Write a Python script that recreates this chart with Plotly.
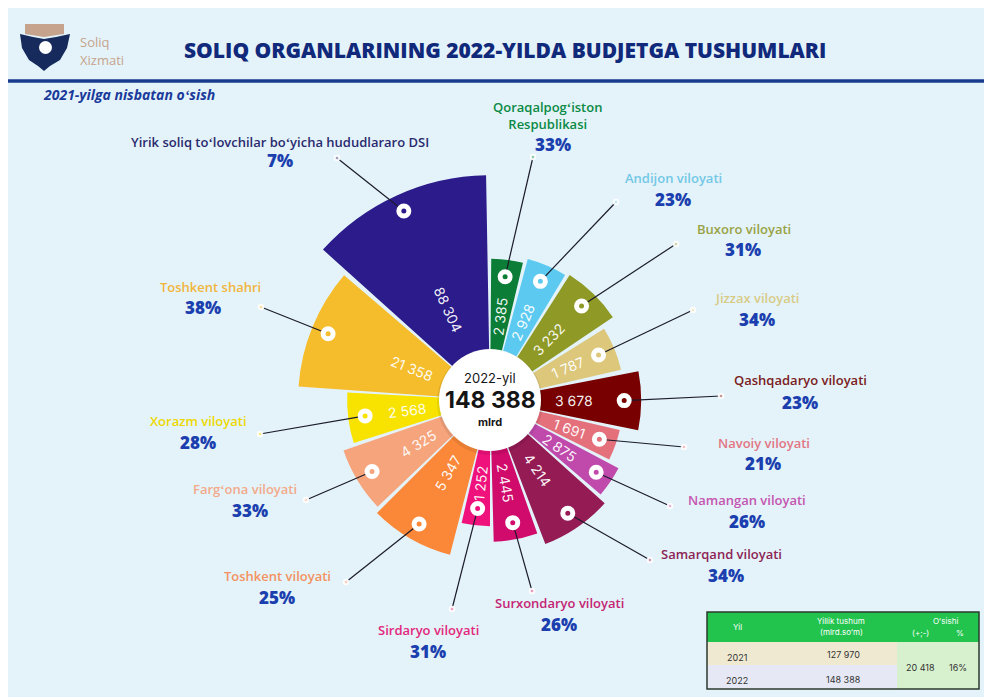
import math
import plotly.graph_objects as go

regions = [
    "Qoraqalpogʻiston<br>Respublikasi", "Andijon viloyati", "Buxoro viloyati",
    "Jizzax viloyati", "Qashqadaryo viloyati", "Navoiy viloyati",
    "Namangan viloyati", "Samarqand viloyati", "Surxondaryo viloyati",
    "Sirdaryo viloyati", "Toshkent viloyati", "Fargʻona viloyati",
    "Xorazm viloyati", "Toshkent shahri",
    "Yirik soliq toʻlovchilar boʻyicha hududlararo DSI",
]
revenue_2022 = [2385, 2928, 3232, 1787, 3678, 1691, 2875, 4214, 2445,
                1252, 5347, 4325, 2568, 21358, 88304]
growth_pct = [33, 23, 31, 34, 23, 21, 26, 34, 26, 31, 25, 33, 28, 38, 7]

years = ["2021", "2022"]
annual_total = [127970, 148388]

# ---- styling / layout ----
W, H = 992, 697
OFF = 8                 # page body margin: screen pixel = figure pixel + OFF
BG = "#e4f3fa"
NAVY = "#10297a"
PCT_BLUE = "#1b3fae"

sector_colors = ["#0b7d36", "#5ccaf0", "#8f9a26", "#dcc77a", "#780000",
                 "#e4707c", "#c04aac", "#951b55", "#d00b6b", "#f0127c",
                 "#fb8738", "#f6a47c", "#f8e300", "#f5bc2b", "#2b1b8b"]
label_colors = ["#0a8a45", "#72c8e6", "#99a244", "#d8cb86", "#7a2020",
                "#e27684", "#c455b0", "#8c2455", "#c42474", "#e2287c",
                "#f3925f", "#f2aa8a", "#ecd800", "#f1b53c", "#2a2a6e"]
# sector centre angle / angular width (degrees, clockwise from north)
sector_theta = [7, 23, 44.25, 67.5, 90.25, 109.75, 124.25, 145.5, 169.5,
                186.5, 209.75, 238.75, 262.75, 292.25, 335.5]
sector_width = [13, 16, 23.5, 19, 22.5, 13.5, 12.5, 27, 18,
                13, 30.5, 24.5, 20.5, 36.5, 47]
# label / percent / leader-dot positions in screen pixels
label_xy = [(547, 116), (673, 178), (744, 229), (757, 298), (800, 380),
            (764, 443), (747, 500), (721, 554), (559, 603), (428, 630),
            (277, 576), (245, 489), (198, 421), (210, 287), (280, 142)]
pct_xy = [(553, 145), (673, 199), (743, 250), (757, 319), (800, 402),
          (763, 464), (747, 521), (726, 575), (559, 624), (428, 651),
          (277, 597), (250, 510), (198, 442), (203, 307), (280, 161)]
dot_xy = [(533, 157), (616, 202), (676, 244), (693, 310), (721, 396),
          (684, 447), (670, 506), (650, 560), (532, 591), (452, 609),
          (346, 582), (306, 500), (260, 434), (261, 307), (337, 158)]

# polar geometry (screen pixels) and log radial scale
CX, CY = 490, 400
R_PX, HOLE_PX = 296, 50
SLOPE = 53.3            # pixels per decade
A = 1.667               # log10 value at hole edge
B = A + (R_PX - HOLE_PX) / SLOPE
BASE = 10 ** A
RING_PX = 17


def paper(x, y):
    return (x - OFF) / W, 1 - (y - OFF) / H


def to_polar(x, y):
    dx, dy = x - CX, CY - y
    rp = math.hypot(dx, dy)
    th = math.degrees(math.atan2(dx, dy)) % 360
    return 10 ** (A + (rp - HOLE_PX) / SLOPE), th


def note(x, y, text, font, xanchor="center", angle=0):
    px, py = paper(x, y)
    return dict(x=px, y=py, xref="paper", yref="paper", showarrow=False,
                xanchor=xanchor, yanchor="middle", text=text, font=font,
                textangle=angle, borderpad=0)


fig = go.Figure()

fig.add_trace(go.Barpolar(
    r=[v - BASE for v in revenue_2022],
    base=BASE,
    theta=sector_theta,
    width=sector_width,
    marker=dict(color=sector_colors, line=dict(width=0)),
    hoverinfo="skip",
))

ring_r = [v * 10 ** (-RING_PX / SLOPE) for v in revenue_2022]

# leader lines
for i in range(len(regions)):
    dr, dth = to_polar(*dot_xy[i])
    fig.add_trace(go.Scatterpolar(
        r=[ring_r[i], dr], theta=[sector_theta[i], dth], mode="lines",
        line=dict(color="#1b1b2b", width=1.2), hoverinfo="skip",
    ))

# rings on sectors
fig.add_trace(go.Scatterpolar(
    r=ring_r, theta=sector_theta, mode="markers",
    marker=dict(size=10, color=sector_colors, line=dict(color="white", width=5)),
    hoverinfo="skip",
))

# outer dots
dots = [to_polar(*p) for p in dot_xy]
fig.add_trace(go.Scatterpolar(
    r=[d[0] for d in dots], theta=[d[1] for d in dots], mode="markers",
    marker=dict(size=4, color=label_colors, line=dict(color="rgba(255,255,255,0.9)", width=2.5)),
    hoverinfo="skip",
))

annotations = []
shapes = []

# value labels inside sectors
for v, t in zip(revenue_2022, sector_theta):
    rl = 100 if v == max(revenue_2022) else 84
    x = CX + rl * math.sin(math.radians(t))
    y = CY - rl * math.cos(math.radians(t))
    ang = t - 90 if t < 180 else t - 270
    annotations.append(note(x, y, f"{v:,}".replace(",", " "),
                            dict(family="Inter", size=14, color="rgba(255,255,255,0.95)"),
                            angle=ang))

# region labels and growth
for i, name in enumerate(regions):
    annotations.append(note(*label_xy[i], name,
                            dict(family="Open Sans", size=13, weight=600, color=label_colors[i])))
    annotations.append(note(*pct_xy[i], f"{growth_pct[i]}%",
                            dict(family="Open Sans", size=17, weight=800, color=PCT_BLUE)))

# centre circle
for r, dy, col in [(53, 2, "rgba(0,0,0,0.08)"), (51, 0, "white")]:
    x0, y0 = paper(CX - r, CY + r + dy)
    x1, y1 = paper(CX + r, CY - r + dy)
    shapes.append(dict(type="circle", xref="paper", yref="paper",
                       x0=x0, y0=y0, x1=x1, y1=y1, fillcolor=col, line=dict(width=0)))

total_txt = f"{annual_total[1]:,}".replace(",", " ")
for txt, y, size, wt in [(f"{years[1]}-yil", 378, 13, 400), (total_txt, 400, 23, 700),
                         ("mlrd", 422, 11, 700)]:
    annotations.append(note(CX, y, txt, dict(family="Inter", size=size, weight=wt, color="#151515")))

# header
annotations.append(note(505, 50, "SOLIQ ORGANLARINING 2022-YILDA BUDJETGA TUSHUMLARI",
                        dict(family="Open Sans", size=21, weight=800, color=NAVY)))
annotations.append(note(42, 94, "<b><i>2021-yilga nisbatan oʻsish</i></b>",
                        dict(family="Open Sans", size=14, color="#1a3a9a"), xanchor="left"))
for txt, y in [("Soliq", 42), ("Xizmati", 60)]:
    annotations.append(note(79, y, txt, dict(family="Open Sans", size=13, weight=500, color="#c6a38c"),
                            xanchor="left"))

x0, y0 = paper(0, 81)
x1, _ = paper(W + OFF, 81)
shapes.append(dict(type="line", xref="paper", yref="paper", x0=x0, x1=x1, y0=y0, y1=y0,
                   line=dict(color="#183a8c", width=3.5)))


def path(points):
    pts = [paper(x, y) for x, y in points]
    return "M " + " L ".join(f"{x:.5f},{y:.5f}" for x, y in pts) + " Z"


# simple logo emblem
shapes.append(dict(type="path", xref="paper", yref="paper", fillcolor="#c6a38c", line=dict(width=0),
                   path=path([(25, 24), (64, 24), (64, 34), (44, 37), (25, 34)])))
shapes.append(dict(type="path", xref="paper", yref="paper", fillcolor="#162a5c", line=dict(width=0),
                   path=path([(20, 34), (33, 37), (44, 39), (56, 37), (70, 34), (67, 48),
                              (60, 60), (50, 66), (44, 71), (38, 66), (29, 60), (22, 48)])))
x0, y0 = paper(39, 54)
x1, y1 = paper(52, 41)
shapes.append(dict(type="circle", xref="paper", yref="paper", x0=x0, y0=y0, x1=x1, y1=y1,
                   fillcolor="white", line=dict(width=0)))


# summary table
def rect(xa, ya, xb, yb, fill, line=None):
    p0 = paper(xa, yb)
    p1 = paper(xb, ya)
    shapes.append(dict(type="rect", xref="paper", yref="paper", x0=p0[0], y0=p0[1],
                       x1=p1[0], y1=p1[1], fillcolor=fill,
                       line=line or dict(width=0)))


rect(707, 612, 979, 642, "#22c44e")
rect(707, 642, 897, 665, "#efe9d2")
rect(707, 665, 897, 689, "#e6e9f5")
rect(897, 642, 979, 689, "#d7f1cf")
rect(707, 612, 979, 689, "rgba(0,0,0,0)", dict(color="#2b3a2e", width=1.5))

growth_abs = annual_total[1] - annual_total[0]
growth_rel = round(100 * growth_abs / annual_total[0])
cells = [
    ("Yil", 737, 627, 8, "white"),
    ("Yillik tushum", 841, 621, 8, "white"),
    ("(mlrd.soʻm)", 841, 632, 8, "white"),
    ("Oʻsishi", 945, 621, 8, "white"),
    ("(+;-)", 920, 633, 8, "white"),
    ("%", 960, 633, 8, "white"),
    (years[0], 737, 657, 9, "#333333"),
    (f"{annual_total[0]:,}".replace(",", " "), 843, 654, 9, "#333333"),
    (years[1], 737, 680, 9, "#333333"),
    (f"{annual_total[1]:,}".replace(",", " "), 843, 679, 9, "#333333"),
    (f"{growth_abs:,}".replace(",", " "), 920, 667, 9, "#333333"),
    (f"{growth_rel}%", 958, 667, 9, "#333333"),
]
for txt, x, y, size, col in cells:
    annotations.append(note(x, y, txt, dict(family="Inter", size=size, color=col)))

fig.update_layout(
    width=W, height=H,
    margin=dict(l=0, r=0, t=0, b=0),
    paper_bgcolor=BG,
    plot_bgcolor=BG,
    showlegend=False,
    polar=dict(
        domain=dict(x=[(CX - OFF - R_PX) / W, (CX - OFF + R_PX) / W],
                    y=[1 - (CY - OFF + R_PX) / H, 1 - (CY - OFF - R_PX) / H]),
        hole=HOLE_PX / R_PX,
        bgcolor="rgba(0,0,0,0)",
        radialaxis=dict(type="log", range=[A, B], visible=False, showgrid=False),
        angularaxis=dict(rotation=90, direction="clockwise", visible=False, showgrid=False),
    ),
    annotations=annotations,
    shapes=shapes,
)

fig.write_html("out.html")
